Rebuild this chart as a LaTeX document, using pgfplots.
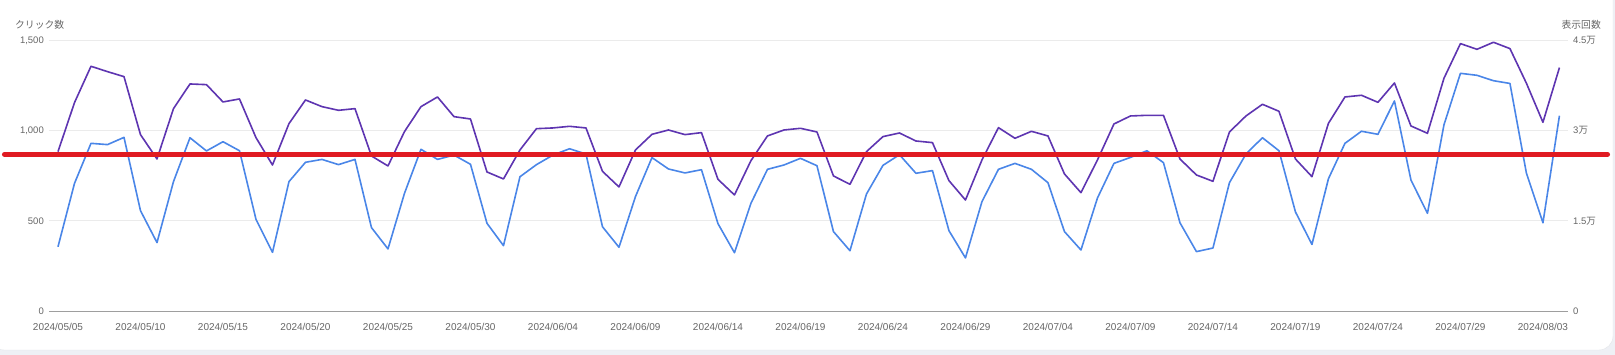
\documentclass[border=0pt]{standalone}
\usepackage{fontspec}
\setmainfont{Liberation Sans}
\newfontfamily\cjk{Noto Sans CJK JP}
\usepackage{pgfplots}
\pgfplotsset{compat=1.18}
\definecolor{clk}{HTML}{4A86E8}
\definecolor{imp}{HTML}{5E35B1}
\definecolor{annot}{HTML}{E01B22}
\definecolor{lbl}{HTML}{666666}
\definecolor{grd}{HTML}{EBEBEB}
\definecolor{basec}{HTML}{9E9E9E}
\definecolor{bg}{HTML}{EEF0F5}
\definecolor{cardb}{HTML}{E3E5E8}
\pgfplotsset{common/.style={
  scale only axis, width=1519pt, height=270.7pt,
  at={(49pt,44pt)}, anchor=south west,
  xmin=-0.545, xmax=91.52, clip=false,
  major tick length=0pt, tick style={draw=none},
  scaled y ticks=false, scaled x ticks=false,
  ticklabel style={font=\fontsize{9.5}{11}\selectfont, text=lbl, inner sep=0pt},
  /pgf/number format/assume math mode=true,
}}
\begin{document}
\begin{tikzpicture}
\useasboundingbox (0pt,0pt) rectangle (1615pt,355pt);
\fill[bg] (0pt,0pt) rectangle (1615pt,355pt);
\filldraw[fill=white, draw=cardb, rounded corners=14pt] (-10pt,5pt) rectangle (1613pt,380pt);
\node[anchor=west, inner sep=0pt, text=lbl, font=\fontsize{9.8}{11}\selectfont\cjk] at (15pt,330pt) {クリック数};
\node[anchor=east, inner sep=0pt, text=lbl, font=\fontsize{9.8}{11}\selectfont\cjk] at (1601pt,330pt) {表示回数};
\begin{axis}[common, ymin=0, ymax=45000,
  axis x line=none, axis y line*=right, y axis line style={draw=none},
  ytick={0,15000,30000,45000},
  yticklabels={0,1.5{\cjk 万},3{\cjk 万},4.5{\cjk 万}},
  ymajorgrids, grid style={grd, line width=0.8pt},
  yticklabel style={anchor=west, xshift=5pt}]
\addplot[imp, line width=1.6pt, line join=round] table {
0 26490
1 34640
2 40680
3 39790
4 38960
5 29320
6 25270
7 33640
8 37740
9 37630
10 34750
11 35250
12 28820
13 24270
14 31150
15 35080
16 33970
17 33360
18 33640
19 25770
20 24110
21 29820
22 33970
23 35580
24 32310
25 31920
26 23110
27 21950
28 26770
29 30310
30 30430
31 30700
32 30430
33 23220
34 20620
35 26770
36 29370
37 30090
38 29320
39 29650
40 21890
41 19290
42 25000
43 29100
44 30090
45 30370
46 29760
47 22450
48 21060
49 26490
50 28990
51 29590
52 28260
53 27990
54 21670
55 18450
56 25110
57 30480
58 28710
59 29870
60 29100
61 22780
62 19670
63 25110
64 31090
65 32420
66 32530
67 32530
68 25270
69 22610
70 21560
71 29760
72 32420
73 34360
74 33200
75 25270
76 22330
77 31200
78 35580
79 35860
80 34690
81 37910
82 30760
83 29540
84 38680
85 44450
86 43500
87 44670
88 43620
89 37850
90 31370
91 40460
};
\end{axis}
\begin{axis}[common, ymin=0, ymax=1500,
  axis x line*=bottom, axis y line*=left,
  x axis line style={draw=basec, line width=0.9pt, -},
  y axis line style={draw=none},
  ytick={0,500,1000,1500}, yticklabels={0,500,{1,000},{1,500}},
  yticklabel style={anchor=east, xshift=-5pt},
  xtick={0,5,...,90},
  xticklabels={2024/05/05,2024/05/10,2024/05/15,2024/05/20,2024/05/25,2024/05/30,2024/06/04,2024/06/09,2024/06/14,2024/06/19,2024/06/24,2024/06/29,2024/07/04,2024/07/09,2024/07/14,2024/07/19,2024/07/24,2024/07/29,2024/08/03},
  xticklabel style={anchor=north, yshift=-12pt, font=\fontsize{10}{11}\selectfont}]
\addplot[clk, line width=1.6pt, line join=round] table {
0 356
1 707
2 929
3 922
4 962
5 556
6 379
7 717
8 960
9 887
10 938
11 888
12 508
13 325
14 717
15 824
16 840
17 811
18 840
19 462
20 344
21 652
22 896
23 840
24 864
25 813
26 486
27 362
28 744
29 811
30 864
31 899
32 870
33 467
34 353
35 634
36 850
37 787
38 765
39 783
40 484
41 323
42 597
43 785
44 809
45 846
46 805
47 440
48 334
49 648
50 807
51 866
52 763
53 778
54 445
55 294
56 606
57 785
58 818
59 785
60 711
61 440
62 338
63 626
64 818
65 851
66 888
67 822
68 489
69 329
70 349
71 711
72 870
73 960
74 888
75 549
76 369
77 733
78 929
79 996
80 979
81 1164
82 726
83 541
84 1031
85 1317
86 1306
87 1276
88 1261
89 763
90 489
91 1082
};
\addplot[annot, line width=4.8pt, line cap=round] coordinates {(-3.25,868) (93.92,868)};
\end{axis}
\end{tikzpicture}
\end{document}
